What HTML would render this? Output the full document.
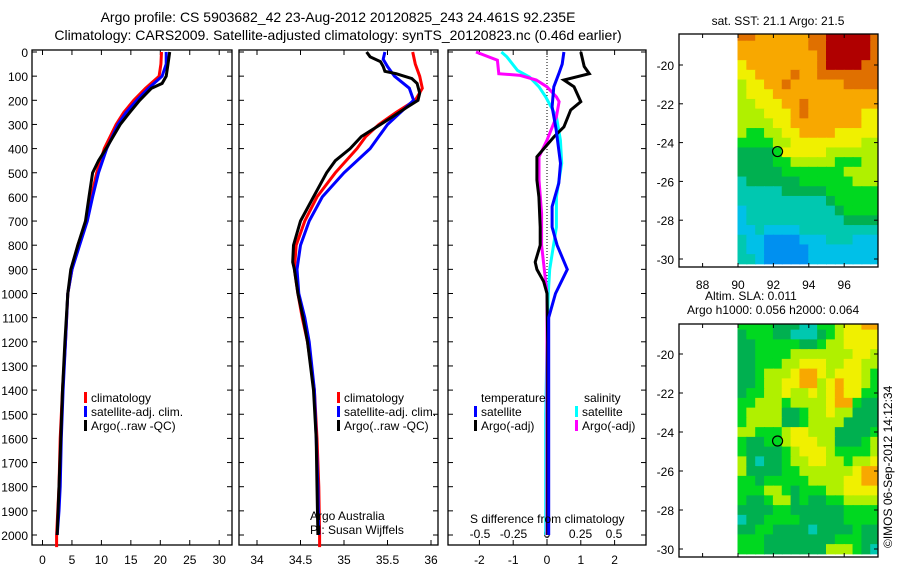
<!DOCTYPE html>
<html><head><meta charset="utf-8"><style>
html,body{margin:0;padding:0;background:#fff;}
svg{display:block;font-family:"Liberation Sans",sans-serif;}
</style></head><body>
<svg id="c" width="900" height="580" viewBox="0 0 900 580" xmlns="http://www.w3.org/2000/svg">
<text x="338" y="22" font-size="14" text-anchor="middle">Argo profile: CS 5903682_42 23-Aug-2012 20120825_243 24.461S 92.235E</text>
<text x="338" y="40" font-size="14" text-anchor="middle">Climatology: CARS2009. Satellite-adjusted climatology: synTS_20120823.nc (0.46d earlier)</text>
<g id="g"></g>
</svg>
<script>
// ---- profile data ----
const tRedD=[0,50,100,150,200,250,300,400,500,600,700,800,900,1000,1200,1400,1600,1800,2000,2050];
const tRedV=[20.2,20.1,19.8,17.5,15.5,13.8,12.5,10.5,9.2,8.3,7.5,6.0,5.0,4.3,3.9,3.4,3.0,2.8,2.4,2.4];
const tBlueD=[0,50,100,150,200,250,300,400,500,600,700,800,900,1000,1200,1400,1600,1800,1900,2000];
const tBlueV=[21.0,21.0,20.3,18.0,16.0,14.2,12.8,10.9,9.5,8.5,7.6,6.3,5.0,4.3,3.9,3.5,3.2,3.0,2.8,2.5];
const tBlkD=[0,50,100,130,150,200,250,300,400,450,500,600,700,800,900,1000,1200,1400,1600,1800,2000];
const tBlkV=[21.6,21.3,21.0,20.3,18.5,16.5,14.8,13.2,10.8,9.5,8.5,7.9,7.3,6.0,4.8,4.3,3.8,3.4,3.1,2.8,2.5];
const sRedD=[0,50,100,150,200,250,300,350,400,500,600,700,800,900,1000,1100,1200,1400,1600,1800,2000,2050];
const sRedV=[35.79,35.82,35.87,35.9,35.82,35.6,35.4,35.25,35.15,34.9,34.69,34.55,34.45,34.43,34.47,34.52,34.58,34.66,34.69,34.71,34.72,34.72];
const sBlueD=[0,30,60,100,150,200,250,300,400,500,600,700,800,900,1000,1100,1200,1400,1600,1800,2000];
const sBlueV=[35.47,35.45,35.5,35.58,35.75,35.8,35.65,35.5,35.3,35.0,34.75,34.6,34.5,34.46,34.48,34.55,34.6,34.66,34.68,34.70,34.71];
const sBlkD=[0,20,40,60,80,90,110,130,170,200,230,270,300,350,400,450,500,600,700,800,870,900,1000,1100,1200,1400,1600,1800,2000];
const sBlkV=[35.26,35.3,35.42,35.45,35.47,35.6,35.78,35.84,35.87,35.85,35.72,35.55,35.42,35.2,35.07,34.9,34.8,34.65,34.5,34.42,34.41,34.43,34.47,34.53,34.58,34.65,34.68,34.69,34.70];
const dtBlkD=[0,60,90,116,144,206,240,310,352,434,530,600,725,800,870,900,950,1000,1200,1500,2000];
const dtBlkV=[1.0,1.1,1.25,0.5,0.8,1.0,0.7,0.5,0.2,-0.3,-0.3,-0.24,-0.2,-0.2,-0.35,-0.3,-0.1,0.0,0.02,0.02,0.02];
const dtBlueD=[0,50,90,144,227,320,461,543,640,725,800,900,1000,1100,1500,2000];
const dtBlueV=[0.5,0.45,0.35,0.2,0.15,0.27,0.4,0.35,0.15,0.15,0.3,0.6,0.25,0.05,0.05,0.05];
const dsPinkD=[0,34,90,97,116,144,186,206,268,365,434,530,668,800,900,1000,1500,2000];
const dsPinkV=[-0.53,-0.37,-0.36,-0.2,-0.08,0,0.07,0.09,0.07,0,-0.06,-0.06,-0.04,-0.04,-0.02,0,0,0];
const dsCyanD=[0,20,76,104,144,186,268,365,461,600,725,900,1000,1200,1500,2000];
const dsCyanV=[-0.34,-0.3,-0.22,-0.13,-0.06,-0.01,0.07,0.1,0.11,0.07,0.07,0.02,0.01,0,-0.01,-0.01];
const depthTicks=[0,100,200,300,400,500,600,700,800,900,1000,1100,1200,1300,1400,1500,1600,1700,1800,1900,2000];
const tTicks=[0,5,10,15,20,25,30];
const sTicks=[34,34.5,35,35.5,36];
const dtTicks=[-2,-1,0,1,2];
const dsTicks=[-0.5,-0.25,0,0.25,0.5];
const dsTickLabels=["-0.5","-0.25","0","0.25","0.5"];
// ---- map data (hex level per 0.5 deg cell; lon 90..97.5, lat -18.5..-30) ----
const sstRows=["9988888899aaaaa9","8888888899aaaaa9","8888888889aaaaa9","7888888889aaaa99","7788889889999999","6778898888889999","6777888888888888","6677788988888888","6667778988888877","6666778888888877","6556677888877777","5555667777777766","4444577777666666","4444556666655566","4444455555556666","3444444555555666","3333344444555555","3333333333455555","2333333333345555","2333333333334444","2232222333333333","3221111222333222","3221111122222222","3321111122222222"];
const slaRows=["5555444335567788","4555443334567777","4455555445667777","4455556666666776","4455566777667766","4456667887677765","4456677886787765","4556676676787755","5566656666788544","5666644566766444","5666644566664444","6655567766644445","5445567776644456","5444456777655556","6434456677665667","6444455666666788","5545555566667788","5556654555667777","5445664544556666","4444554444445555","3445555444445555","4455444434444544","5554444444455544","5554444444666543"];
const lonTicks=[88,90,92,94,96];
const latTicks=[-20,-22,-24,-26,-28,-30];
const floatLon=92.235, floatLat=-24.461;

const NS="http://www.w3.org/2000/svg";
const G=document.getElementById('g');
function el(t,a,p){const e=document.createElementNS(NS,t);for(const k in a)e.setAttribute(k,a[k]);(p||G).appendChild(e);return e;}
function txt(x,y,s,a,p){const e=el('text',Object.assign({x:x,y:y,'font-size':12},a||{}),p);e.textContent=s;return e;}
const Y=d=>52+0.2415*d;
const Y0=50,Y1=545;
const xT=v=>42.5+5.89*v, xS=v=>257+87*(v-34), xDT=v=>547+33.8*v, xDS=v=>547+134*v;
const panels=[[32,232],[239,438],[448,646]];
panels.forEach((p,i)=>{
  const r=el('rect',{x:p[0],y:Y0,width:p[1]-p[0],height:Y1-Y0,fill:'none',stroke:'#000','stroke-width':1.3});
  
  
  depthTicks.forEach(d=>{
    el('line',{x1:p[0],x2:p[0]+5,y1:Y(d),y2:Y(d),stroke:'#000'});
    el('line',{x1:p[1],x2:p[1]-5,y1:Y(d),y2:Y(d),stroke:'#000'});
  });
});
depthTicks.forEach(d=>{const t=txt(28,Y(d)+5,String(d),{'text-anchor':'end'});
  
  });
function xticks(arr,fx,labels,y){arr.forEach((v,i)=>{
  el('line',{x1:fx(v),x2:fx(v),y1:Y1,y2:Y1-5,stroke:'#000'});
  el('line',{x1:fx(v),x2:fx(v),y1:Y0,y2:Y0+5,stroke:'#000'});
  const t=txt(fx(v),y,labels?labels[i]:String(v),{'text-anchor':'middle'});
  
  });}
xticks(tTicks,xT,null,564);
xticks(sTicks,xS,null,564);
xticks(dtTicks,xDT,null,564);
dsTicks.forEach((v,i)=>{const t=txt(xDS(v),538,dsTickLabels[i],{'text-anchor':'middle'});
  
  });
el('line',{x1:xDT(0),x2:xDT(0),y1:Y0,y2:Y1,stroke:'#000','stroke-dasharray':'1,2'});
function line(D,V,fx,col,name){
  const pts=D.map((d,i)=>fx(V[i]).toFixed(1)+','+Y(d).toFixed(1)).join(' ');
  const e=el('polyline',{points:pts,fill:'none',stroke:col,'stroke-width':3,'stroke-linejoin':'miter'});
  
  
}
line(tRedD,tRedV,xT,'#f00','temp-climatology-line');
line(tBlueD,tBlueV,xT,'#00f','temp-satellite-clim-line');
line(tBlkD,tBlkV,xT,'#000','temp-argo-line');
line(sRedD,sRedV,xS,'#f00','sal-climatology-line');
line(sBlueD,sBlueV,xS,'#00f','sal-satellite-clim-line');
line(sBlkD,sBlkV,xS,'#000','sal-argo-line');
line(dsCyanD,dsCyanV,xDS,'#0ff','sdiff-satellite-line');
line(dsPinkD,dsPinkV,xDS,'#f0f','sdiff-argo-line');
line(dtBlkD,dtBlkV,xDT,'#000','tdiff-argo-line');
line(dtBlueD,dtBlueV,xDT,'#00f','tdiff-satellite-line');
function leg(x,y,col,s,name){el('rect',{x:x,y:y-10,width:3,height:11,fill:col});
  const t=txt(x+7,y,s);}
leg(84,402,'#f00','climatology','legend-climatology');
leg(84,416,'#00f','satellite-adj. clim.','legend-satellite-adj');
leg(84,430,'#000','Argo(..raw -QC)','legend-argo');
leg(337,402,'#f00','climatology','legend-climatology-2');
leg(337,416,'#00f','satellite-adj. clim.','legend-satellite-adj-2');
leg(337,430,'#000','Argo(..raw -QC)','legend-argo-2');
txt(481,402,'temperature');txt(584,402,'salinity');
leg(474,416,'#00f','satellite','legend-t-satellite');
leg(474,430,'#000','Argo(-adj)','legend-t-argo');
leg(575,416,'#0ff','satellite','legend-s-satellite');
leg(575,430,'#f0f','Argo(-adj)','legend-s-argo');
txt(310,520,'Argo Australia');txt(310,534,'PI: Susan Wijffels');
txt(470,523,'S difference from climatology');
// ---- maps ----
const pal={'0':'#0060e0','1':'#0090f0','2':'#00c0e8','3':'#00c8b0','4':'#00b050','5':'#00d820','6':'#b0f000','7':'#f0f000','8':'#f8a800','9':'#e07000','a':'#b00000'};
function map(top,bot,lat20,lat30,rows,name){
  const lx=v=>738+17.7*(v-90), ly=v=>lat20+(lat30-lat20)*(v+20)/(-10);
  const g=el('g',{});
  rows.forEach((r,ri)=>{const la=-18.5-0.5*ri;
    for(let ci=0;ci<r.length;ci++){const lo=90+0.5*ci;
      const y0=Math.max(top,ly(la+0.25)), y1=Math.min(bot,ly(la-0.25));
      el('rect',{x:lx(lo)-0.5,y:y0,width:Math.min(878,lx(lo+0.5)+0.5)-(lx(lo)-0.5),height:y1-y0+0.5,fill:pal[r[ci]]},g);}});
  el('rect',{x:679,y:top,width:199,height:bot-top,fill:'none',stroke:'#000','stroke-width':1.3});
  lonTicks.forEach(v=>{el('line',{x1:lx(v),x2:lx(v),y1:top,y2:top+4,stroke:'#000'});el('line',{x1:lx(v),x2:lx(v),y1:bot,y2:bot-4,stroke:'#000'});});
  latTicks.forEach(v=>{el('line',{x1:679,x2:683,y1:ly(v),y2:ly(v),stroke:'#000'});el('line',{x1:878,x2:874,y1:ly(v),y2:ly(v),stroke:'#000'});
    const t=txt(674,ly(v)+5,String(v),{'text-anchor':'end'});});
  const c=el('circle',{cx:lx(floatLon),cy:ly(floatLat),r:5,fill:'none',stroke:'#000','stroke-width':1.2});
  
  return lx;
}
const lx1=map(34,267,65,259,sstRows,'sst-map');
lonTicks.forEach(v=>{const t=txt(lx1(v),289,String(v),{'text-anchor':'middle'});});
map(324,557,354,549,slaRows,'sla-map');
txt(778,25,'sat. SST: 21.1 Argo: 21.5',{'text-anchor':'middle'});
txt(705,300,'Altim. SLA: 0.011');
txt(687,314,'Argo h1000: 0.056 h2000: 0.064');
const cr=txt(0,0,'©IMOS 06-Sep-2012 14:12:34',{transform:'translate(892,548) rotate(-90)'});

</script>
</body></html>
